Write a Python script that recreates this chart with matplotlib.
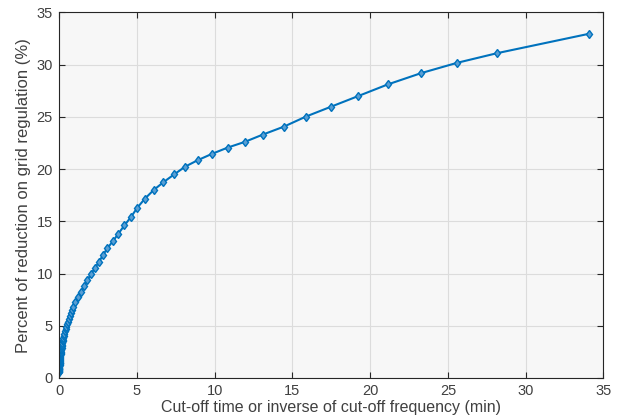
import matplotlib
matplotlib.use('Agg')
import matplotlib.pyplot as plt

# cut-off time (min) and reduction on grid regulation (%)
cutoff_min = [0.0075, 0.008, 0.009, 0.010, 0.011, 0.012, 0.0135, 0.015, 0.016, 0.018,
              0.020, 0.022, 0.024, 0.026, 0.029, 0.032, 0.035, 0.038, 0.042, 0.047,
              0.051, 0.057, 0.062, 0.068, 0.075, 0.083, 0.091, 0.100, 0.111, 0.122,
              0.134, 0.147, 0.162, 0.178, 0.196, 0.216, 0.237, 0.261, 0.287, 0.316,
              0.347, 0.382, 0.420, 0.462, 0.509, 0.560, 0.615, 0.677, 0.745, 0.82,
              0.90, 1.05, 1.25, 1.42, 1.63, 1.83, 2.06, 2.30, 2.56, 2.83,
              3.11, 3.46, 3.82, 4.20, 4.62, 5.04, 5.51, 6.09, 6.71, 7.42,
              8.12, 8.92, 9.84, 10.85, 11.94, 13.10, 14.47, 15.88, 17.47, 19.22,
              21.13, 23.29, 25.59, 28.18, 34.07]
reduction_pct = [0.60, 0.62, 0.66, 0.70, 0.74, 0.78, 0.82, 0.86, 0.90, 0.95,
                 1.00, 1.05, 1.10, 1.16, 1.22, 1.28, 1.34, 1.41, 1.48, 1.55,
                 1.63, 1.71, 1.79, 1.88, 1.97, 2.07, 2.17, 2.28, 2.40, 2.52,
                 2.64, 2.77, 2.90, 3.04, 3.20, 3.35, 3.50, 3.68, 3.85, 4.05,
                 4.25, 4.45, 4.65, 4.90, 5.15, 5.40, 5.65, 5.90, 6.20, 6.50,
                 6.83, 7.28, 7.79, 8.27, 8.81, 9.39, 9.96, 10.50, 11.10, 11.78,
                 12.42, 13.09, 13.82, 14.60, 15.40, 16.31, 17.15, 18.00, 18.74, 19.51,
                 20.24, 20.85, 21.46, 22.06, 22.60, 23.30, 24.07, 25.03, 25.96, 26.98,
                 28.10, 29.19, 30.17, 31.10, 32.95]

plt.rcParams['font.family'] = ['Liberation Sans', 'DejaVu Sans']

fig = plt.figure(figsize=(6.18, 4.15), dpi=100)
ax = fig.add_axes([0.0955, 0.0892, 0.881, 0.881])
ax.set_facecolor('#f7f7f7')

ax.plot(cutoff_min, reduction_pct, color='#0072bd', lw=1.5, marker='d',
        markersize=4.5, markerfacecolor='#5a9fd4', markeredgecolor='#0072bd',
        markeredgewidth=1.0)

ax.set_xlim(0, 35)
ax.set_ylim(0, 35)
ax.set_xticks(range(0, 36, 5))
ax.set_yticks(range(0, 36, 5))
ax.grid(True, color='#dcdcdc', lw=0.8)
ax.set_axisbelow(True)
ax.tick_params(direction='in', top=True, right=True, length=4, width=0.8,
               colors='#262626', labelcolor='#404040', labelsize=10.5, pad=4.5)
for s in ax.spines.values():
    s.set_color('#262626')
    s.set_linewidth(0.8)

ax.set_xlabel('Cut-off time or inverse of cut-off frequency (min)', fontsize=11.5,
              color='#404040', labelpad=1)
ax.set_ylabel('Percent of reduction on grid regulation (%)', fontsize=12,
              color='#404040', labelpad=4)

fig.savefig('out.png', dpi=100)
